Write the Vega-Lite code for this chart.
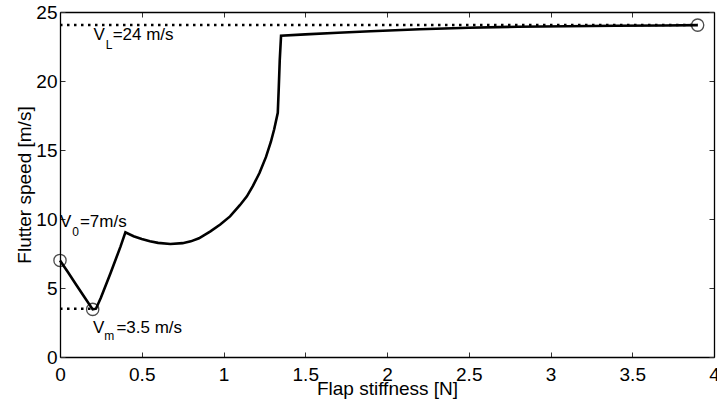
{
  "$schema": "https://vega.github.io/schema/vega-lite/v6.json",
  "width": 654,
  "height": 345,
  "autosize": {"type": "none"},
  "padding": {"left": 60, "top": 12, "right": 3, "bottom": 50},
  "background": "white",
  "config": {
    "font": "Liberation Sans",
    "view": {"stroke": null},
    "axis": {
      "grid": false,
      "domainColor": "black",
      "domainWidth": 1.3,
      "tickColor": "#333333",
      "tickWidth": 1,
      "tickSize": -5,
      "labelColor": "black",
      "labelFont": "Liberation Sans",
      "labelFontSize": 19,
      "labelFlush": false,
      "titleColor": "black",
      "titleFont": "Liberation Sans",
      "titleFontSize": 19,
      "titleFontWeight": "normal"
    }
  },
  "datasets": {
    "curve": [
      {"k": 0.0, "v": 7.0},
      {"k": 0.05, "v": 6.12},
      {"k": 0.1, "v": 5.22},
      {"k": 0.15, "v": 4.33},
      {"k": 0.2, "v": 3.45},
      {"k": 0.22, "v": 3.5},
      {"k": 0.25, "v": 4.3},
      {"k": 0.31, "v": 6.1},
      {"k": 0.37, "v": 8.0},
      {"k": 0.4, "v": 9.03},
      {"k": 0.45, "v": 8.75},
      {"k": 0.5, "v": 8.55},
      {"k": 0.55, "v": 8.38},
      {"k": 0.6, "v": 8.27},
      {"k": 0.675, "v": 8.19},
      {"k": 0.75, "v": 8.25},
      {"k": 0.8, "v": 8.38},
      {"k": 0.85, "v": 8.6},
      {"k": 0.92, "v": 9.1},
      {"k": 0.98, "v": 9.6},
      {"k": 1.04, "v": 10.19},
      {"k": 1.1, "v": 11.0},
      {"k": 1.143, "v": 11.64},
      {"k": 1.18, "v": 12.4},
      {"k": 1.22, "v": 13.33},
      {"k": 1.26, "v": 14.5},
      {"k": 1.29, "v": 15.6},
      {"k": 1.31, "v": 16.5},
      {"k": 1.332, "v": 17.7},
      {"k": 1.338, "v": 19.5},
      {"k": 1.344, "v": 21.5},
      {"k": 1.352, "v": 23.28},
      {"k": 1.5, "v": 23.38},
      {"k": 1.7, "v": 23.5},
      {"k": 1.9, "v": 23.6},
      {"k": 2.2, "v": 23.75},
      {"k": 2.5, "v": 23.86},
      {"k": 2.8, "v": 23.93},
      {"k": 3.1, "v": 23.97},
      {"k": 3.4, "v": 24.0},
      {"k": 3.7, "v": 24.02},
      {"k": 3.9, "v": 24.05}
    ],
    "refs": [
      {"k": 0.0, "k2": 3.9, "v": 24.05},
      {"k": 0.0, "k2": 0.2, "v": 3.5}
    ],
    "marks": [
      {"k": 0.0, "v": 7.0},
      {"k": 0.2, "v": 3.45},
      {"k": 3.9, "v": 24.05}
    ],
    "labels": [
      {"k": 0.0, "v": 9.44, "t": "V", "part": "main"},
      {"k": 0.075, "v": 8.74, "t": "0", "part": "sub"},
      {"k": 0.122, "v": 9.44, "t": "=7m/s", "part": "main"},
      {"k": 0.205, "v": 22.95, "t": "V", "part": "main"},
      {"k": 0.28, "v": 22.3, "t": "L", "part": "sub"},
      {"k": 0.322, "v": 22.95, "t": "=24 m/s", "part": "main"},
      {"k": 0.202, "v": 1.74, "t": "V", "part": "main"},
      {"k": 0.271, "v": 1.2, "t": "m", "part": "sub"},
      {"k": 0.345, "v": 1.74, "t": "=3.5 m/s", "part": "main"}
    ]
  },
  "layer": [
    {
      "data": {"name": "refs"},
      "mark": {"type": "rule", "color": "black", "strokeWidth": 2.5, "strokeDash": [2.5, 4.5]},
      "encoding": {
        "x": {"field": "k", "type": "quantitative", "axis": null, "scale": {"domain": [0, 4], "nice": false, "zero": false}},
        "x2": {"field": "k2"},
        "y": {"field": "v", "type": "quantitative", "axis": null, "scale": {"domain": [0, 25], "nice": false}}
      }
    },
    {
      "data": {"name": "curve"},
      "mark": {"type": "line", "color": "black", "strokeWidth": 2.6},
      "encoding": {
        "x": {"field": "k", "type": "quantitative", "title": "Flap stiffness [N]",
          "axis": {"orient": "bottom", "values": [0, 0.5, 1, 1.5, 2, 2.5, 3, 3.5, 4], "format": "~g", "labelPadding": 13, "titleBaseline": "alphabetic", "titleY": 37}},
        "y": {"field": "v", "type": "quantitative", "title": "Flutter speed [m/s]",
          "axis": {"orient": "left", "values": [0, 5, 10, 15, 20, 25], "labelPadding": 8, "titleBaseline": "alphabetic", "titleX": -30}}
      }
    },
    {
      "data": {"name": "marks"},
      "mark": {"type": "point", "shape": "circle", "filled": false, "color": "black", "size": 150, "strokeWidth": 1.3},
      "encoding": {
        "x": {"field": "k", "type": "quantitative", "axis": null},
        "y": {"field": "v", "type": "quantitative", "axis": null}
      }
    },
    {
      "data": {"name": "labels"},
      "mark": {"type": "text", "align": "left", "baseline": "alphabetic", "color": "black", "font": "Liberation Sans"},
      "encoding": {
        "x": {"field": "k", "type": "quantitative", "axis": null},
        "y": {"field": "v", "type": "quantitative", "axis": null},
        "text": {"field": "t"},
        "size": {"field": "part", "type": "nominal", "legend": null, "scale": {"domain": ["main", "sub"], "range": [17, 12]}}
      }
    },
    {
      "data": {"name": "marks"},
      "mark": {"type": "point", "opacity": 0},
      "encoding": {
        "x": {"field": "k", "type": "quantitative", "axis": {"orient": "top", "values": [0, 0.5, 1, 1.5, 2, 2.5, 3, 3.5, 4], "labels": false, "title": null}},
        "y": {"field": "v", "type": "quantitative", "axis": {"orient": "right", "values": [0, 5, 10, 15, 20, 25], "labels": false, "title": null}}
      }
    }
  ],
  "resolve": {"axis": {"x": "independent", "y": "independent"}}
}
